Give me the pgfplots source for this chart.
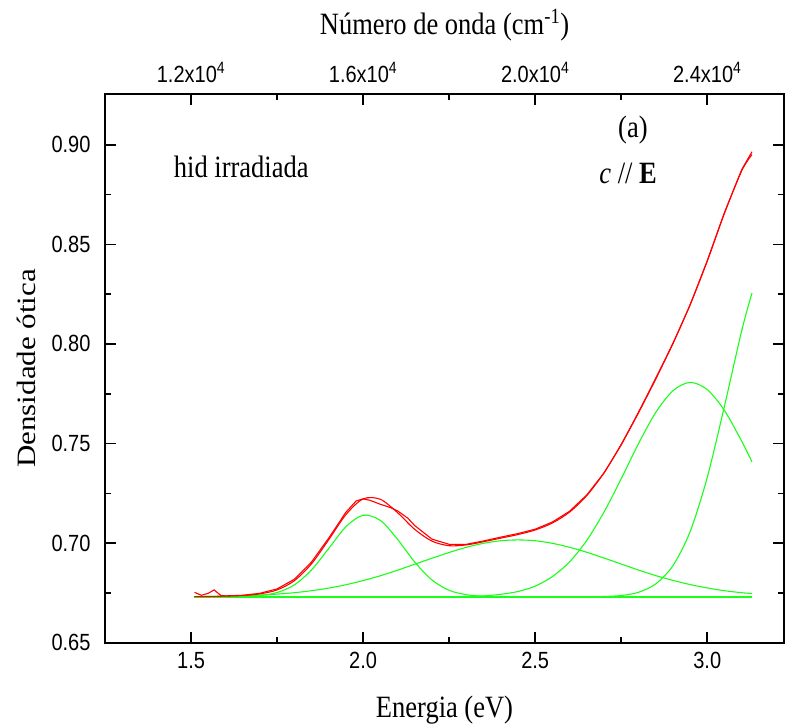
\documentclass[border=0pt]{standalone}
\usepackage{pgfplots}
\pgfplotsset{compat=1.18}
\usepackage{graphicx}
\usepackage{fontspec}
\setmainfont{Liberation Serif}
\setsansfont{Liberation Sans}
\definecolor{myred}{rgb}{1,0,0}
\definecolor{mygreen}{rgb}{0.1,1,0.1}
\newcommand{\lblfont}{\fontsize{26.5}{30}\selectfont}
\newcommand{\tickfont}{\fontsize{20}{24}\selectfont\sffamily}
\newcommand{\vs}[1]{\scalebox{1}[1.17]{#1}}
\newcommand{\hs}[1]{\scalebox{1.17}[1]{#1}}
\begin{document}
\begin{tikzpicture}
\useasboundingbox (-105pt,-84.3pt) rectangle (680pt,642.7pt);
\begin{axis}[
  at={(0pt,0pt)}, anchor=south west,
  scale only axis, width=679pt, height=548.7pt,
  xmin=1.25, xmax=3.223, ymin=0.65, ymax=0.9255,
  xtick={1.5,2.0,2.5,3.0}, ytick={0.65,0.70,0.75,0.80,0.85,0.90},
  minor x tick num=1, minor y tick num=1,
  xtick pos=bottom, ytick pos=both, yticklabel pos=left,
  tick align=inside,
  major tick length=11pt, minor tick length=6pt,
  axis line style={line width=2pt},
  every tick/.style={black, line width=1.6pt},
  /pgf/number format/assume math mode=true,
  xticklabel={\vs{\pgfmathprintnumber[fixed,fixed zerofill,precision=1,assume math mode=true]{\tick}}},
  yticklabel={\vs{\pgfmathprintnumber[fixed,fixed zerofill,precision=2,assume math mode=true]{\tick}}},
  xticklabel style={font=\tickfont, yshift=-6pt},
  yticklabel style={font=\tickfont, xshift=-11pt},
  scaled ticks=false,
  xlabel={\vs{Energia (eV)}}, ylabel={\hs{Densidade ótica}},
  xlabel style={font=\lblfont, at={(axis description cs:0.5,-0.1227)}, anchor=center},
  ylabel style={font=\lblfont, at={(axis description cs:-0.1150,0.5)}, anchor=center},
  clip=false,
]
% baseline
\addplot[mygreen, line width=1.3pt] coordinates {(1.51,0.6730) (3.13,0.6730)};
% G1
\addplot[mygreen, line width=1.1pt, smooth] coordinates {
(1.51,0.6730) (1.55,0.6730) (1.60,0.6730) (1.65,0.6731) (1.70,0.6736) (1.75,0.6752) (1.80,0.6790) (1.85,0.6865) (1.90,0.6973) (1.95,0.7082) (2.00,0.7140) (2.05,0.7114) (2.10,0.7019) (2.15,0.6905) (2.20,0.6815) (2.25,0.6763) (2.30,0.6741) (2.35,0.6733) (2.40,0.6731) (2.45,0.6730) (2.60,0.6730) (2.80,0.6730) (3.00,0.6730) (3.13,0.6730)};
% G2
\addplot[mygreen, line width=1.1pt, smooth] coordinates {
(1.51,0.6731) (1.55,0.6732) (1.60,0.6733) (1.65,0.6736) (1.70,0.6739) (1.75,0.6744) (1.80,0.6751) (1.85,0.6761) (1.90,0.6774) (1.95,0.6791) (2.00,0.6812) (2.05,0.6836) (2.10,0.6864) (2.15,0.6894) (2.20,0.6924) (2.25,0.6953) (2.30,0.6979) (2.35,0.6999) (2.40,0.7012) (2.45,0.7016) (2.50,0.7012) (2.55,0.6999) (2.60,0.6979) (2.65,0.6954) (2.70,0.6925) (2.75,0.6895) (2.80,0.6865) (2.85,0.6837) (2.90,0.6813) (2.95,0.6792) (3.00,0.6775) (3.05,0.6761) (3.10,0.6751) (3.13,0.6747)};
% G3
\addplot[mygreen, line width=1.1pt, smooth] coordinates {
(1.51,0.6730) (1.80,0.6730) (2.00,0.6730) (2.20,0.6730) (2.25,0.6731) (2.30,0.6732) (2.35,0.6735) (2.40,0.6743) (2.45,0.6757) (2.50,0.6784) (2.55,0.6832) (2.60,0.6906) (2.65,0.7014) (2.70,0.7156) (2.75,0.7323) (2.80,0.7499) (2.85,0.7655) (2.90,0.7765) (2.95,0.7807) (3.00,0.7771) (3.05,0.7666) (3.10,0.7512) (3.13,0.7408)};
% G4
\addplot[mygreen, line width=1.1pt, smooth] coordinates {
(1.51,0.6730) (1.80,0.6730) (2.10,0.6730) (2.40,0.6730) (2.60,0.6730) (2.65,0.6730) (2.70,0.6732) (2.75,0.6737) (2.80,0.6753) (2.85,0.6795) (2.90,0.6886) (2.95,0.7057) (3.00,0.7330) (3.05,0.7688) (3.10,0.8066) (3.13,0.8256)};
% fit (sum)
\addplot[myred, line width=1.1pt, smooth] coordinates {
(1.51,0.6731) (1.55,0.6732) (1.60,0.6734) (1.65,0.6737) (1.70,0.6745) (1.75,0.6765) (1.80,0.6811) (1.85,0.6896) (1.90,0.7017) (1.95,0.7143) (2.00,0.7222) (2.05,0.7220) (2.10,0.7153) (2.15,0.7069) (2.20,0.7010) (2.25,0.6987) (2.30,0.6991) (2.35,0.7007) (2.40,0.7025) (2.45,0.7043) (2.50,0.7066) (2.55,0.7101) (2.60,0.7156) (2.65,0.7239) (2.70,0.7353) (2.75,0.7496) (2.80,0.7657) (2.85,0.7827) (2.90,0.8003) (2.95,0.8196) (3.00,0.8416) (3.05,0.8656) (3.10,0.8869) (3.13,0.8951)};
% experimental
\addplot[myred, line width=1.1pt] coordinates {
(1.51,0.6753) (1.53,0.6738) (1.55,0.6748) (1.567,0.6765) (1.586,0.6738) (1.60,0.6735) (1.65,0.6738) (1.70,0.6748) (1.75,0.6770) (1.80,0.6818) (1.85,0.6905) (1.90,0.7025) (1.95,0.7155) (1.98,0.7212) (2.00,0.7222) (2.02,0.7215) (2.05,0.7195) (2.08,0.7178) (2.10,0.7162) (2.13,0.7125) (2.15,0.7088) (2.20,0.7020) (2.25,0.6994) (2.30,0.6994) (2.35,0.7011) (2.40,0.7030) (2.45,0.7048) (2.50,0.7070) (2.55,0.7106) (2.60,0.7160) (2.65,0.7242) (2.70,0.7352) (2.75,0.7493) (2.80,0.7653) (2.85,0.7822) (2.90,0.8000) (2.95,0.8195) (3.00,0.8418) (3.05,0.8660) (3.10,0.8875) (3.13,0.8965)};
\node[anchor=west, font=\lblfont] at (axis cs:1.44,0.889) {\vs{hid irradiada}};
\node[anchor=center, font=\lblfont] at (axis cs:2.784,0.9076) {\vs{(a)}};
\node[anchor=center, font=\lblfont] at (axis cs:2.77,0.8855) {\vs{\textit{c} // \textbf{E}}};
\end{axis}
\begin{axis}[
  at={(0pt,0pt)}, anchor=south west,
  scale only axis, width=679pt, height=548.7pt,
  xmin=10000, xmax=25784, ymin=0.65, ymax=0.9255,
  axis x line*=top, axis y line=none,
  scaled ticks=false,
  xtick={12000,16000,20000,24000},
  xticklabels={\vs{1.2x10\textsuperscript{4}},\vs{1.6x10\textsuperscript{4}},\vs{2.0x10\textsuperscript{4}},\vs{2.4x10\textsuperscript{4}}},
  minor x tick num=1,
  tick align=inside,
  major tick length=11pt, minor tick length=6pt,
  axis line style={line width=2pt},
  every tick/.style={black, line width=1.6pt},
  xticklabel style={font=\tickfont, yshift=8pt},
  xlabel={\vs{Número de onda (cm\textsuperscript{-1})}},
  xlabel style={font=\lblfont, at={(axis description cs:0.5,1.1258)}, anchor=center},
]
\end{axis}
\end{tikzpicture}
\end{document}
